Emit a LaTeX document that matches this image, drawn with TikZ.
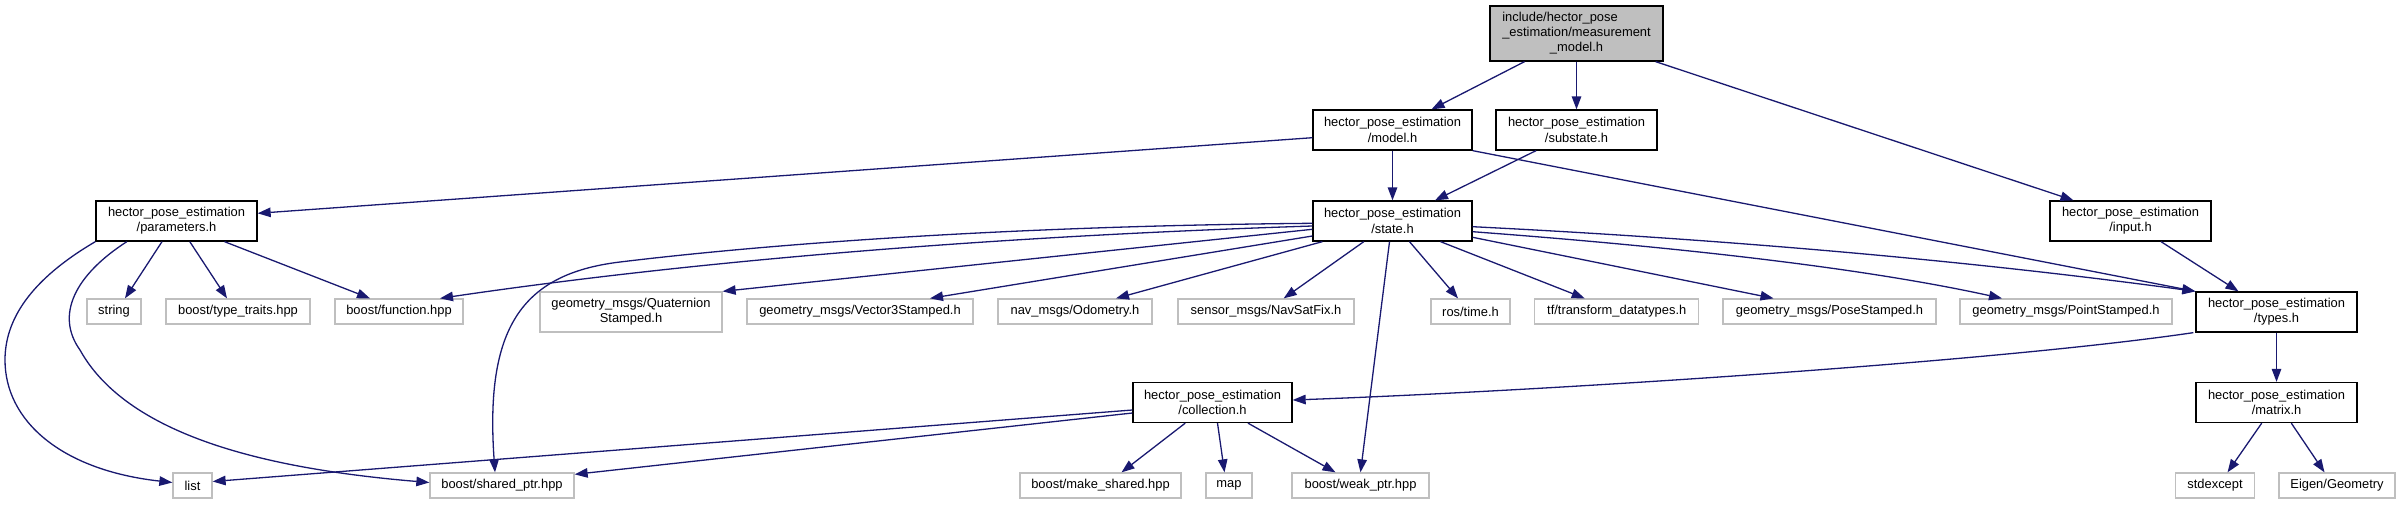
\documentclass[tikz,border=0pt]{standalone}
\usepackage{fontspec}
\setmainfont{Liberation Sans}
\usetikzlibrary{arrows.meta,calc}
\definecolor{edgec}{HTML}{191970}
\definecolor{grayc}{HTML}{BFBFBF}
\tikzset{
  base/.style={draw, line width=1.3pt, inner sep=0pt, align=center,
    font=\fontsize{12.9}{15.3}\selectfont},
  mainbox/.style={base, draw=black, fill=white, minimum height=40pt},
  topbox/.style={base, draw=black, fill=grayc, minimum height=55pt},
  leafbox/.style={base, draw=grayc, fill=white, minimum height=25pt},
  leafbox2/.style={base, draw=grayc, fill=white, minimum height=40pt},
  edge/.style={draw=edgec, line width=1.3pt, -{Triangle[length=13pt,width=9.5pt]}},
}
\begin{document}
\begin{tikzpicture}[x=1pt,y=-1pt]
\useasboundingbox (0,0) rectangle (2397,504);
% nodes
\node[topbox, minimum width=173] (mm) at (1576.5,33.5)
  {\begin{tabular}{@{}l@{}}include/hector\_pose\\\_estimation/measurement\\\multicolumn{1}{@{}c@{}}{\_model.h}\end{tabular}};
\node[mainbox, minimum width=159] (model) at (1392.5,130) {hector\_pose\_estimation\\/model.h};
\node[mainbox, minimum width=161] (substate) at (1576.5,130) {hector\_pose\_estimation\\/substate.h};
\node[mainbox, minimum width=161] (input) at (2130.5,221) {hector\_pose\_estimation\\/input.h};
\node[mainbox, minimum width=161] (params) at (176.5,221) {hector\_pose\_estimation\\/parameters.h};
\node[mainbox, minimum width=159] (state) at (1392.5,221) {hector\_pose\_estimation\\/state.h};
\node[leafbox, minimum width=54] (string) at (114,311.5) {string};
\node[leafbox, minimum width=144] (typetraits) at (238,311.5) {boost/type\_traits.hpp};
\node[leafbox, minimum width=128] (function) at (399,311.5) {boost/function.hpp};
\node[leafbox2, minimum width=182] (quat) at (631,312) {geometry\_msgs/Quaternion\\Stamped.h};
\node[leafbox, minimum width=226] (vec3) at (860,311.5) {geometry\_msgs/Vector3Stamped.h};
\node[leafbox, minimum width=154] (odom) at (1075,311.5) {nav\_msgs/Odometry.h};
\node[leafbox, minimum width=176] (navsat) at (1266,311.5) {sensor\_msgs/NavSatFix.h};
\node[leafbox, minimum width=79] (rostime) at (1470.5,311.5) {ros/time.h};
\node[leafbox, minimum width=164] (tf) at (1616.7,311.5) {tf/transform\_datatypes.h};
\node[leafbox, minimum width=213] (pose) at (1829.5,311.5) {geometry\_msgs/PoseStamped.h};
\node[leafbox, minimum width=212] (point) at (2066,311.5) {geometry\_msgs/PointStamped.h};
\node[mainbox, minimum width=161] (types) at (2276.5,312) {hector\_pose\_estimation\\/types.h};
\node[mainbox, minimum width=159] (collection) at (1212.5,402.5) {hector\_pose\_estimation\\/collection.h};
\node[mainbox, minimum width=161] (matrix) at (2276.5,402.5) {hector\_pose\_estimation\\/matrix.h};
\node[leafbox, minimum width=39] (list) at (192.5,485.5) {list};
\node[leafbox, minimum width=144] (sharedptr) at (502,485.5) {boost/shared\_ptr.hpp};
\node[leafbox, minimum width=161] (makeshared) at (1100.5,485.5) {boost/make\_shared.hpp};
\node[leafbox, minimum width=46] (map) at (1229,485.5) {map};
\node[leafbox, minimum width=137] (weakptr) at (1360.5,485.5) {boost/weak\_ptr.hpp};
\node[leafbox, minimum width=79] (stdexcept) at (2215,485.5) {stdexcept};
\node[leafbox, minimum width=116] (eigen) at (2337,485.5) {Eigen/Geometry};
% edges from measurement_model.h
\draw[edge] ($(mm.south)+(-52,0)$) -- ($(model.north)+(39,0)$);
\draw[edge] (mm.south) -- (substate.north);
\draw[edge] ($(mm.south east)+(-8,0)$) -- ($(input.north)+(-57,0)$);
% model, substate, input
\draw[edge] (model.south) -- (state.north);
\draw[edge] ($(substate.south)+(-40.5,0)$) -- ($(state.north)+(42.5,0)$);
\draw[edge] ($(model.west)+(0,7.7)$) -- ($(params.east)+(0,-7.7)$);
\draw[edge] (model.south east) -- (types.north west);
\draw[edge] ($(input.south)+(30.5,0)$) -- ($(types.north)+(-38,0)$);
% state
\draw[edge] ($(state.west)+(0,5)$) .. controls (1000,236) and (700,260) .. ($(function.north)+(41,0)$);
\draw[edge] ($(state.west)+(0,2.3)$) .. controls (1000,226) and (760,245) .. (620,262)
  .. controls (520,274) and (485,330) .. ($(sharedptr.north)+(-7,0)$);
\draw[edge] ($(state.west)+(0,8.3)$) -- (quat.north east);
\draw[edge] ($(state.west)+(0,15)$) -- ($(vec3.north)+(70,0)$);
\draw[edge] ($(state.south west)+(10,0)$) -- ($(odom.north)+(41,0)$);
\draw[edge] ($(state.south)+(-28.7,0)$) -- ($(navsat.north)+(17.7,0)$);
\draw[edge] ($(state.south)+(-3,0)$) -- (weakptr.north);
\draw[edge] ($(state.south)+(17,0)$) -- ($(rostime.north)+(-12.5,0)$);
\draw[edge] ($(state.south)+(48,0)$) -- ($(tf.north)+(-32,0)$);
\draw[edge] ($(state.east)+(0,16.3)$) -- ($(pose.north)+(-56,0)$);
\draw[edge] ($(state.east)+(0,10.7)$) .. controls (1650,245) and (1850,265) .. ($(point.north)+(-64,0)$);
\draw[edge] ($(state.east)+(0,5.7)$) .. controls (1700,238) and (1950,258) .. (types.north west);
% parameters
\draw[edge] (params.south west) .. controls (30,280) and (5,320) .. (5,360)
  .. controls (5,420) and (60,470) .. ($(list.west)+(0,-3)$);
\draw[edge] ($(params.south west)+(31.5,0)$) .. controls (75,275) and (55,315) .. (80,350)
  .. controls (130,440) and (280,470) .. ($(sharedptr.west)+(0,-3)$);
\draw[edge] ($(params.south)+(-14.5,0)$) -- ($(string.north)+(11,0)$);
\draw[edge] ($(params.south)+(13.3,0)$) -- ($(typetraits.north)+(-11,0)$);
\draw[edge] ($(params.south)+(48,0)$) -- ($(function.north)+(-29,0)$);
% collection
\draw[edge] ($(collection.west)+(0,7.5)$) -- ($(list.east)+(0,-4)$);
\draw[edge] ($(collection.west)+(0,10.5)$) -- ($(sharedptr.north east)+(0,2)$);
\draw[edge] ($(collection.south)+(-27.3,0)$) -- ($(makeshared.north)+(21,0)$);
\draw[edge] ($(collection.south)+(5,0)$) -- ($(map.north)+(-4.5,0)$);
\draw[edge] ($(collection.south)+(35.5,0)$) -- ($(weakptr.north)+(-25,0)$);
% types, matrix
\draw[edge] ($(types.south west)+(-2,0)$) .. controls (1994,362) and (1542,391) .. ($(collection.east)+(0,-2.5)$);
\draw[edge] (types.south) -- (matrix.north);
\draw[edge] ($(matrix.south)+(-14.8,0)$) -- ($(stdexcept.north)+(12.5,0)$);
\draw[edge] ($(matrix.south)+(14.8,0)$) -- ($(eigen.north)+(-12.5,0)$);
\end{tikzpicture}
\end{document}
